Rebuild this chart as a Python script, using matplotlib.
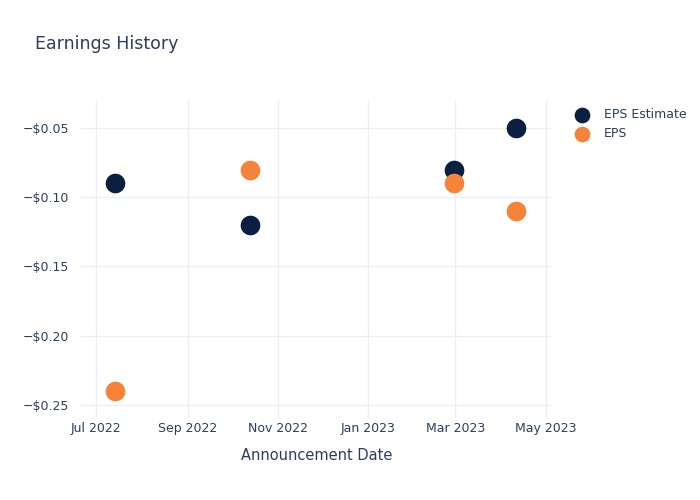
import matplotlib
matplotlib.use("Agg")
import matplotlib.pyplot as plt
import matplotlib.dates as mdates
from matplotlib.ticker import FuncFormatter
import pandas as pd

# values
dates = pd.to_datetime(["2022-07-14", "2022-10-13", "2023-02-28", "2023-04-11"])
eps_estimate = [-0.09, -0.12, -0.08, -0.05]
eps_actual = [-0.24, -0.08, -0.09, -0.11]

text_color = "#2a3f5f"
grid_color = "#ebf0f8"
navy = "#0b1f41"
orange = "#f7833b"

fig = plt.figure(figsize=(7, 5), dpi=100)
ax = fig.add_axes([80 / 700, 82 / 500, 473 / 700, 318 / 500])

ax.scatter(dates, eps_estimate, s=200, color=navy, label="EPS Estimate", zorder=3, linewidths=0)
ax.scatter(dates, eps_actual, s=200, color=orange, label="EPS", zorder=3, linewidths=0)

ax.set_xlim(pd.Timestamp("2022-06-20"), pd.Timestamp("2023-05-06"))
ax.set_ylim(-0.2594, -0.0298)

ax.xaxis.set_major_locator(mdates.MonthLocator(bymonth=[1, 3, 5, 7, 9, 11]))
ax.xaxis.set_major_formatter(mdates.DateFormatter("%b %Y"))
ax.set_yticks([-0.25, -0.20, -0.15, -0.10, -0.05])
ax.yaxis.set_major_formatter(FuncFormatter(lambda v, p: f"\u2212${abs(v):.2f}" if v < 0 else f"${v:.2f}"))

ax.grid(True, color=grid_color, linewidth=1)
ax.set_axisbelow(True)
for s in ax.spines.values():
    s.set_visible(False)
ax.tick_params(length=0, labelsize=9, labelcolor=text_color)
ax.tick_params(axis="y", pad=8)
ax.tick_params(axis="x", pad=3)

ax.set_xlabel("Announcement Date", fontsize=10.5, color=text_color, labelpad=9)
fig.text(35 / 700, 1 - 44 / 500, "Earnings History", fontsize=12.5, color=text_color, va="center")

ax.legend(loc="upper left", bbox_to_anchor=(1.025, 0.99), frameon=False, fontsize=9,
          labelcolor=text_color, handletextpad=0.7, labelspacing=0.45, borderaxespad=0.0,
          markerscale=0.8)

fig.savefig("out.png", dpi=100)
